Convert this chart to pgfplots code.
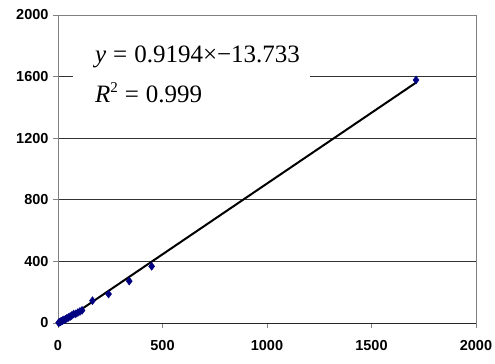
\documentclass[border=0pt]{standalone}
\usepackage{fontspec}
\setmainfont{Liberation Sans}
\newfontfamily\timesfont{Liberation Serif}
\usepackage{pgfplots}
\pgfplotsset{compat=1.18}

\begin{document}
\begin{tikzpicture}
\begin{axis}[
    scale only axis,
    width=418bp, height=308bp,
    xmin=0, xmax=2000,
    ymin=0, ymax=2000,
    xtick={0,500,1000,1500,2000},
    xticklabels={\textbf{0},\textbf{500},\textbf{1000},\textbf{1500},\textbf{2000}},
    ytick={0,400,800,1200,1600,2000},
    yticklabels={\textbf{0},\textbf{400},\textbf{800},\textbf{1200},\textbf{1600},\textbf{2000}},
    tick pos=left,
    tick align=outside,
    major tick length=5bp,
    tick style={gray, line width=0.8bp},
    axis line style={gray, line width=0.8bp},
    ymajorgrids=true,
    grid style={black!80, line width=0.7bp},
    x tick label style={font=\fontsize{14.5bp}{16bp}\selectfont, yshift=-9bp},
    y tick label style={font=\fontsize{14.5bp}{16bp}\selectfont, xshift=-1bp},
]

\addplot[only marks, mark=diamond*, mark size=4bp,
    color={rgb,255:red,0;green,0;blue,128}]
    coordinates {
    (3,2)(8,5)(12,9)(18,12)(22,16)(28,20)(35,24)(42,30)(50,36)(58,42)
    (65,48)(75,58)(85,60)(95,68)(105,75)(115,82)
    (165,145)(242,188)(341,272)(448,368)(1713,1578)
    };

% linear trend line, end points
\addplot[black, line width=2bp] coordinates {(3,-11)(1713,1561)};

\draw[black!85, line width=0.8bp] (axis cs:0,0) -- (axis cs:2000,0);
\fill[white] (axis cs:72,1380) rectangle (axis cs:1206,1903);
\node[anchor=base west, inner sep=0pt] at (axis cs:177,1690)
    {\timesfont\fontsize{25bp}{28bp}\selectfont\textit{y}\;=\;0.9194×−13.733};
\node[anchor=base west, inner sep=0pt] at (axis cs:177,1430)
    {\timesfont\fontsize{25bp}{28bp}\selectfont\textit{R}\raisebox{0.42em}{\fontsize{15bp}{16bp}\selectfont 2}\;=\;0.999};
\end{axis}
\pgfresetboundingbox
\path ([shift={(-58bp,-41bp)}]current axis.south west)
    rectangle ([shift={(19bp,15bp)}]current axis.north east);
\end{tikzpicture}
\end{document}
